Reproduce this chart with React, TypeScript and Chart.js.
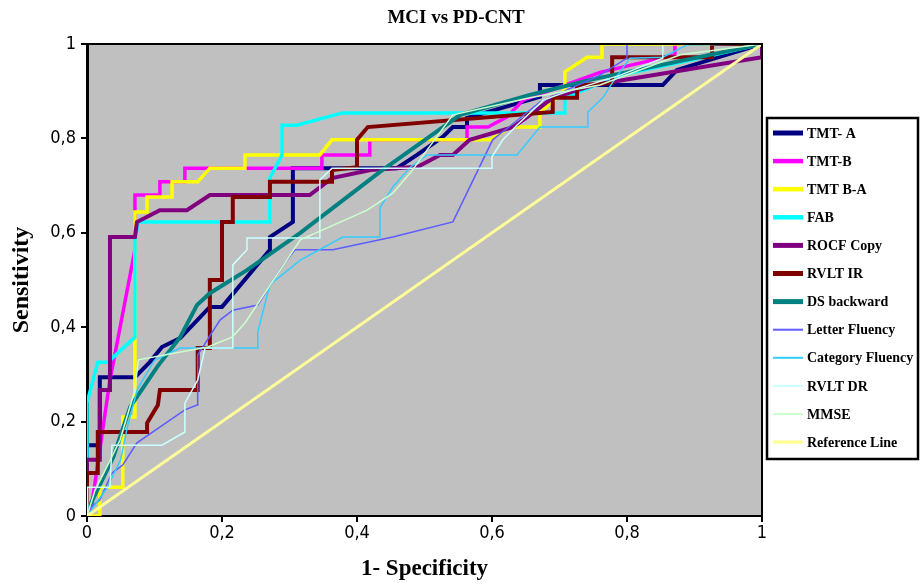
import React, { useEffect, useRef } from 'react';
import { Chart, registerables } from 'chart.js';

Chart.register(...registerables);

type Pt = [number, number];

const chartTitle = 'MCI vs PD-CNT';
const xAxisTitle = '1- Specificity';
const yAxisTitle = 'Sensitivity';
const tickValues = [0, 0.2, 0.4, 0.6, 0.8, 1];

const seriesNames = [
  'TMT- A', 'TMT-B', 'TMT B-A', 'FAB', 'ROCF Copy', 'RVLT IR', 'DS backward',
  'Letter Fluency', 'Category Fluency', 'RVLT DR', 'MMSE', 'Reference Line',
];

const tmtA: Pt[] = [
  [0, 0], [0, 0.15], [0.019, 0.15], [0.019, 0.294], [0.071, 0.294], [0.093, 0.326],
  [0.111, 0.358], [0.138, 0.377], [0.182, 0.443], [0.2, 0.443], [0.271, 0.564],
  [0.271, 0.591], [0.305, 0.623], [0.305, 0.737], [0.459, 0.737], [0.489, 0.765],
  [0.527, 0.803], [0.542, 0.824], [0.563, 0.824], [0.563, 0.843], [0.671, 0.888],
  [0.671, 0.913], [0.853, 0.913], [0.874, 0.945], [1, 1],
];

const tmtB: Pt[] = [
  [0, 0], [0.007, 0.023], [0.034, 0.288], [0.071, 0.564], [0.071, 0.68], [0.108, 0.68],
  [0.108, 0.708], [0.145, 0.708], [0.145, 0.737], [0.348, 0.737], [0.348, 0.765],
  [0.419, 0.765], [0.419, 0.797], [0.563, 0.797], [0.563, 0.824], [0.594, 0.824],
  [0.622, 0.845], [0.646, 0.881], [0.76, 0.94], [0.871, 0.977], [0.871, 1], [1, 1],
];

const tmtBA: Pt[] = [
  [0, 0], [0.019, 0], [0.019, 0.061], [0.053, 0.061], [0.053, 0.21], [0.071, 0.21],
  [0.071, 0.644], [0.089, 0.644], [0.089, 0.676], [0.126, 0.676], [0.126, 0.708],
  [0.164, 0.708], [0.182, 0.737], [0.234, 0.737], [0.234, 0.765], [0.345, 0.765],
  [0.363, 0.797], [0.597, 0.797], [0.627, 0.824], [0.671, 0.824], [0.671, 0.854],
  [0.708, 0.903], [0.708, 0.941], [0.741, 0.972], [0.763, 0.972], [0.763, 1], [1, 1],
];

const fab: Pt[] = [
  [0, 0], [0, 0.24], [0.016, 0.326], [0.031, 0.326], [0.071, 0.379], [0.071, 0.585],
  [0.076, 0.623], [0.271, 0.623], [0.271, 0.716], [0.289, 0.765], [0.289, 0.828],
  [0.311, 0.828], [0.378, 0.854], [0.708, 0.854], [0.708, 0.886], [0.79, 0.934],
  [0.908, 0.97], [1, 1],
];

const rocfCopy: Pt[] = [
  [0, 0], [0, 0.119], [0.019, 0.119], [0.019, 0.267], [0.034, 0.267], [0.034, 0.591],
  [0.071, 0.591], [0.074, 0.623], [0.108, 0.648], [0.148, 0.648], [0.182, 0.68],
  [0.33, 0.68], [0.363, 0.716], [0.42, 0.733], [0.49, 0.74], [0.523, 0.765],
  [0.542, 0.765], [0.567, 0.797], [0.631, 0.824], [0.652, 0.845], [0.69, 0.886],
  [0.75, 0.913], [1, 0.972], [1, 1],
];

const rvltIR: Pt[] = [
  [0, 0], [0, 0.091], [0.015, 0.091], [0.016, 0.178], [0.089, 0.178], [0.089, 0.197],
  [0.105, 0.235], [0.108, 0.267], [0.163, 0.267], [0.164, 0.356], [0.182, 0.356],
  [0.182, 0.5], [0.2, 0.5], [0.2, 0.623], [0.216, 0.623], [0.216, 0.676], [0.271, 0.676],
  [0.271, 0.708], [0.363, 0.708], [0.363, 0.733], [0.4, 0.739], [0.4, 0.797],
  [0.416, 0.824], [0.69, 0.856], [0.69, 0.886], [0.726, 0.886], [0.726, 0.913],
  [0.778, 0.917], [0.778, 0.972], [0.926, 0.972], [0.926, 1], [1, 1],
];

const dsBackward: Pt[] = [
  [0, 0], [0.001, 0.013], [0.039, 0.125], [0.064, 0.231], [0.104, 0.316], [0.138, 0.379],
  [0.163, 0.447], [0.182, 0.472], [0.237, 0.521], [0.316, 0.6], [0.434, 0.729],
  [0.553, 0.85], [0.656, 0.892], [0.745, 0.924], [1, 1],
];

const letterFluency: Pt[] = [
  [0, 0], [0.001, 0.013], [0.019, 0.034], [0.037, 0.091], [0.053, 0.108], [0.074, 0.155],
  [0.145, 0.225], [0.163, 0.235], [0.164, 0.341], [0.197, 0.415], [0.216, 0.436],
  [0.253, 0.447], [0.29, 0.53], [0.308, 0.564], [0.364, 0.564], [0.453, 0.591],
  [0.542, 0.623], [0.601, 0.797], [0.631, 0.831], [0.671, 0.877], [0.76, 0.934],
  [0.8, 0.97], [0.8, 1], [1, 1],
];

const categoryFluency: Pt[] = [
  [0, 0], [0.01, 0.02], [0.03, 0.06], [0.05, 0.12], [0.06, 0.19], [0.075, 0.27],
  [0.1, 0.33], [0.138, 0.356], [0.253, 0.356], [0.253, 0.39], [0.271, 0.49],
  [0.316, 0.542], [0.379, 0.591], [0.434, 0.591], [0.434, 0.653], [0.453, 0.697],
  [0.479, 0.739], [0.504, 0.765], [0.637, 0.765], [0.671, 0.824], [0.742, 0.824],
  [0.742, 0.856], [0.764, 0.886], [0.778, 0.917], [0.804, 0.97], [0.853, 0.972],
  [0.889, 0.998], [1, 1],
];

const rvltDR: Pt[] = [
  [0, 0], [0.001, 0.061], [0.034, 0.061], [0.037, 0.15], [0.111, 0.15], [0.145, 0.178],
  [0.145, 0.239], [0.164, 0.288], [0.175, 0.356], [0.216, 0.356], [0.216, 0.532],
  [0.237, 0.564], [0.237, 0.589], [0.345, 0.589], [0.345, 0.712], [0.363, 0.737],
  [0.6, 0.737], [0.6, 0.761], [0.616, 0.797], [0.637, 0.828], [0.676, 0.881],
  [0.705, 0.896], [0.79, 0.934], [0.853, 0.97], [0.853, 1], [1, 1],
];

const mmse: Pt[] = [
  [0, 0], [0.012, 0.055], [0.027, 0.097], [0.049, 0.161], [0.071, 0.267], [0.076, 0.331],
  [0.179, 0.358], [0.215, 0.379], [0.234, 0.409], [0.316, 0.585], [0.415, 0.648],
  [0.453, 0.684], [0.479, 0.727], [0.542, 0.85], [0.656, 0.886], [0.76, 0.913],
  [0.879, 0.977], [1, 1],
];

const referenceLine: Pt[] = [[0, 0], [1, 1]];

const seriesData: Pt[][] = [
  tmtA, tmtB, tmtBA, fab, rocfCopy, rvltIR, dsBackward,
  letterFluency, categoryFluency, rvltDR, mmse, referenceLine,
];

const seriesColors = [
  '#000080', '#FF00FF', '#FFFF00', '#00FFFF', '#800080', '#800000', '#008080',
  '#5C5CFF', '#33CCFF', '#CCFFFF', '#CCFFCC', '#FFFF99',
];
const seriesWidths = [4, 3.5, 3.5, 3.5, 4, 4, 4, 1.5, 1.5, 1.5, 1.5, 3];
const legendWidths = [5, 4.5, 4.5, 4.5, 5, 5, 5, 2, 2, 2, 2, 3.5];

const W = 921;
const H = 584;
const PLOT_LEFT = 87;
const PLOT_RIGHT = 762;
const PLOT_TOP = 44;
const PLOT_BOTTOM = 516;

const SERIF = '"Liberation Serif", "Times New Roman", serif';
const NARROW = '"Liberation Sans Narrow", "DejaVu Sans Condensed", "Arial Narrow", sans-serif';

function fmtTick(v: number): string {
  const r = Math.round(v * 10) / 10;
  return String(r).replace('.', ',');
}

const framePlugin = {
  id: 'framePlugin',
  beforeDraw(chart: any) {
    const { ctx, chartArea: a } = chart;
    ctx.save();
    ctx.fillStyle = '#ffffff';
    ctx.fillRect(0, 0, chart.width, chart.height);
    ctx.fillStyle = '#C0C0C0';
    ctx.fillRect(a.left, a.top, a.right - a.left, a.bottom - a.top);
    ctx.restore();
  },
  afterDraw(chart: any) {
    const { ctx, chartArea: a } = chart;
    ctx.save();
    ctx.strokeStyle = '#000';
    ctx.lineWidth = 2;
    ctx.beginPath();
    ctx.moveTo(a.left, a.top);
    ctx.lineTo(a.right, a.top);
    ctx.lineTo(a.right, a.bottom);
    ctx.stroke();

    ctx.fillStyle = '#000';
    ctx.font = `bold 19px ${SERIF}`;
    ctx.textAlign = 'center';
    ctx.textBaseline = 'middle';
    ctx.fillText(chartTitle, 456, 18);

    const bx = 767, by = 118, bw = 151, bh = 341;
    ctx.fillStyle = '#ffffff';
    ctx.fillRect(bx, by, bw, bh);
    ctx.strokeStyle = '#000';
    ctx.lineWidth = 2.5;
    ctx.strokeRect(bx, by, bw, bh);
    const ds = chart.data.datasets;
    ctx.font = `bold 14px ${SERIF}`;
    ctx.textAlign = 'left';
    ctx.textBaseline = 'middle';
    for (let i = 0; i < ds.length; i++) {
      const y = 133 + i * 28.1;
      ctx.strokeStyle = ds[i].borderColor;
      ctx.lineWidth = legendWidths[i];
      ctx.beginPath();
      ctx.moveTo(773, y);
      ctx.lineTo(803, y);
      ctx.stroke();
      ctx.fillStyle = '#000';
      ctx.fillText(ds[i].label, 807, y + 1);
    }
    ctx.restore();
  },
};

export default function App() {
  const ref = useRef<HTMLCanvasElement>(null);

  useEffect(() => {
    document.body.style.margin = '0';
    const canvas = ref.current;
    if (!canvas) return;
    const n = seriesData.length;
    const chart = new Chart(canvas, {
      type: 'scatter',
      data: {
        datasets: seriesData.map((d, i) => ({
          label: seriesNames[i],
          data: d.map(([x, y]) => ({ x, y })),
          showLine: true,
          borderColor: seriesColors[i],
          backgroundColor: seriesColors[i],
          borderWidth: seriesWidths[i],
          pointRadius: 0,
          pointHoverRadius: 0,
          fill: false,
          tension: 0,
          borderJoinStyle: 'miter' as const,
          order: n - i,
        })),
      },
      options: {
        responsive: false,
        animation: false,
        events: [],
        layout: {
          padding: { left: 0, right: W - PLOT_RIGHT, top: PLOT_TOP, bottom: 0 },
        },
        plugins: {
          legend: { display: false },
          tooltip: { enabled: false },
          title: { display: false },
        },
        scales: {
          x: {
            type: 'linear',
            min: 0,
            max: 1,
            afterBuildTicks: (s: any) => {
              s.ticks = tickValues.map((v) => ({ value: v }));
            },
            afterFit: (s: any) => {
              s.height = H - PLOT_BOTTOM;
            },
            ticks: {
              callback: (v: any) => fmtTick(Number(v)),
              color: '#000',
              font: { family: NARROW, size: 18 },
              padding: 1,
              maxRotation: 0,
              autoSkip: false,
            },
            grid: {
              drawOnChartArea: false,
              drawTicks: true,
              tickLength: 6,
              color: '#000',
              lineWidth: 2,
            },
            border: { display: true, color: '#000', width: 2 },
            title: {
              display: true,
              text: xAxisTitle,
              color: '#000',
              font: { family: SERIF, size: 23, weight: 'bold' },
              padding: { top: 0, bottom: 1 },
            },
          },
          y: {
            type: 'linear',
            min: 0,
            max: 1,
            afterBuildTicks: (s: any) => {
              s.ticks = tickValues.map((v) => ({ value: v }));
            },
            afterFit: (s: any) => {
              s.width = PLOT_LEFT;
            },
            ticks: {
              callback: (v: any) => fmtTick(Number(v)),
              color: '#000',
              font: { family: NARROW, size: 18 },
              padding: 5,
              autoSkip: false,
            },
            grid: {
              drawOnChartArea: false,
              drawTicks: true,
              tickLength: 6,
              color: '#000',
              lineWidth: 2,
            },
            border: { display: true, color: '#000', width: 3 },
            title: {
              display: true,
              text: yAxisTitle,
              color: '#000',
              font: { family: SERIF, size: 24, weight: 'bold' },
              padding: { top: 7, bottom: 0 },
            },
          },
        },
      } as any,
      plugins: [framePlugin],
    });
    return () => chart.destroy();
  }, []);

  return (
    <div style={{ width: W, height: H, background: '#fff' }}>
      <canvas ref={ref} width={W} height={H} style={{ display: 'block', width: W, height: H }} />
    </div>
  );
}
